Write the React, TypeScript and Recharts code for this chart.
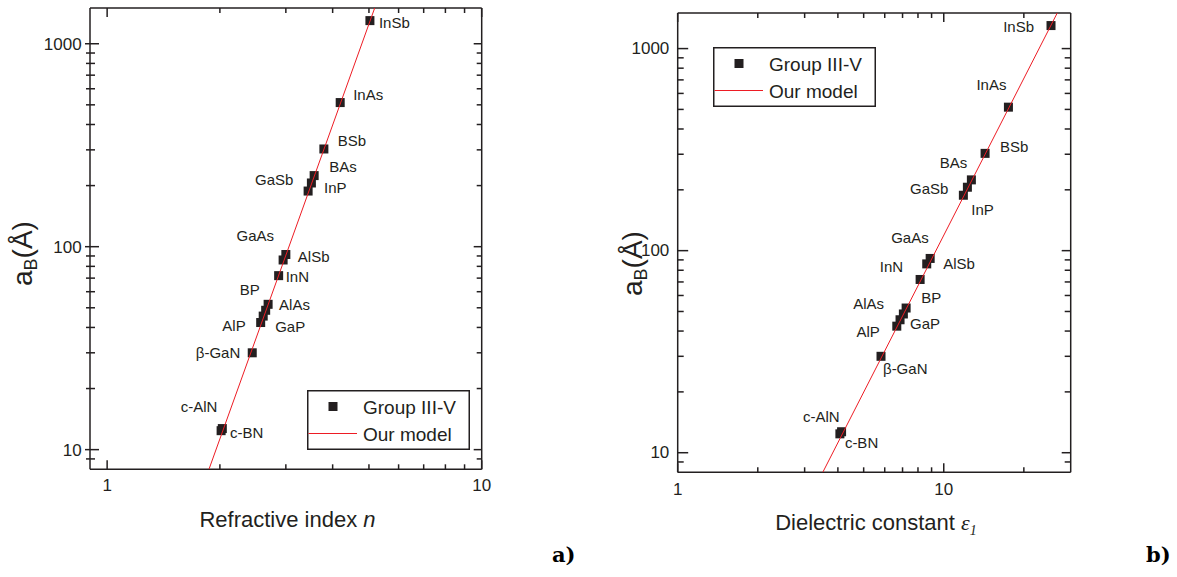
import { ScatterChart, Scatter, XAxis, YAxis, Legend } from 'recharts'

// materials and their values
const materials = ['InSb', 'InAs', 'BSb', 'BAs', 'GaSb', 'InP', 'GaAs', 'AlSb', 'InN', 'AlAs', 'BP', 'GaP', 'AlP', 'β-GaN', 'c-AlN', 'c-BN']
const bohrRadius = [1300, 513, 303, 224, 206, 188, 86, 91.5, 72, 52, 48.6, 45.5, 42.3, 30, 12.7, 12.4]
const refractiveIndex = [5.03, 4.19, 3.79, 3.57, 3.51, 3.44, 2.95, 3.0, 2.87, 2.69, 2.65, 2.61, 2.57, 2.44, 2.03, 2.015]
const dielectricConstant = [25.3, 17.5, 14.3, 12.7, 12.27, 11.85, 8.63, 8.89, 8.15, 7.22, 7.05, 6.85, 6.66, 5.81, 4.13, 4.07]

// model line end points
const modelN = [1.87, 5.18]
const modelEps = [3.51, 26.7]
const modelAB = [8, 1500]

const ticksN = [1, 2, 3, 4, 5, 6, 7, 8, 9, 10]
const ticksEps = [1, 2, 3, 4, 5, 6, 7, 8, 9, 10, 20]
const ticksAB = [9, 10, 20, 30, 40, 50, 60, 70, 80, 90, 100, 200, 300, 400, 500, 600, 700, 800, 900, 1000]
const labelledTicks = [1, 10, 100, 1000]

const INK = '#231f20'
const RED = '#ed1c24'
const FONT = '"Liberation Sans", Arial, sans-serif'

type Anchor = 'start' | 'end'
// label placement next to each square: dx, dy (baseline), anchor
const LABELS_A: Record<string, [number, number, Anchor]> = {
    InSb: [9, 7, 'start'], InAs: [13, -3, 'start'], BSb: [14, -3, 'start'], BAs: [15, -4, 'start'],
    GaSb: [-18, 2, 'end'], InP: [16, 2, 'start'], GaAs: [-9, -19, 'end'], AlSb: [12, 7, 'start'],
    InN: [7, 6, 'start'], AlAs: [11, 6, 'start'], BP: [-6, -15, 'end'], GaP: [12, 16, 'start'],
    AlP: [-15, 8, 'end'], 'β-GaN': [-12, 5, 'end'], 'c-AlN': [-5, -17, 'end'], 'c-BN': [9, 7, 'start'],
}
const LABELS_B: Record<string, [number, number, Anchor]> = {
    InSb: [-17, 6, 'end'], InAs: [-2, -17, 'end'], BSb: [15, -1, 'start'], BAs: [-4, -12, 'end'],
    GaSb: [-19, 7, 'end'], InP: [8, 20, 'start'], GaAs: [2, -21, 'end'], AlSb: [13, 11, 'start'],
    InN: [-17, -7, 'end'], AlAs: [-22, 1, 'end'], BP: [18, -11, 'start'], GaP: [10, 9, 'start'],
    AlP: [-17, 11, 'end'], 'β-GaN': [2, 18, 'start'], 'c-AlN': [-2, -10, 'end'], 'c-BN': [5, 14, 'start'],
}

interface PanelProps {
    left: number
    width: number
    margin: { top: number; right: number; bottom: number; left: number }
    xValues: number[]
    xDomain: [number, number]
    xTicks: number[]
    lineX: number[]
    labels: Record<string, [number, number, Anchor]>
    leftTick: { major: [number, number]; minor: [number, number] }
    rightTick: [number, number]
    yLabel: [number, number]
    xLabelDy: number
    legendPos: { left: number; top: number }
}

const major = (v: number) => labelledTicks.includes(v)

function LegendBox({ payload }: any) {
    return (
        <svg width={163} height={60} style={{ display: 'block' }}>
            <rect x={0.75} y={0.75} width={161.5} height={58.5} fill="#fff" stroke={INK} strokeWidth={1.5} />
            {(payload || []).map((e: any, i: number) => (
                <g key={e.value}>
                    {e.type === 'line'
                        ? <line x1={1.5} x2={50} y1={43.5} y2={43.5} stroke={RED} strokeWidth={1} />
                        : <rect x={21.5} y={12} width={9} height={9} fill={INK} />}
                    <text x={56} y={23.5 + i * 27} fontSize={19} fill={INK} fontFamily={FONT}>{e.value}</text>
                </g>
            ))}
        </svg>
    )
}

function Panel(p: PanelProps) {
    const points = materials.map((name, i) => ({ name, x: p.xValues[i], y: bohrRadius[i] }))
    const line = p.lineX.map((x, i) => ({ x, y: modelAB[i] }))
    const axis = { stroke: INK, strokeWidth: 1.5 }
    // every axis takes 1px, so the margins are one less than the plot box
    const m = { top: p.margin.top - 1, right: p.margin.right - 1, bottom: p.margin.bottom - 1, left: p.margin.left - 1 }

    const bottomTick = (t: any) => (
        <g>
            <line x1={t.x} x2={t.x} y1={t.y} y2={t.y - (major(t.payload.value) ? 9 : 5)} stroke={INK} strokeWidth={1.5} />
            {major(t.payload.value) && (
                <text x={t.x} y={t.y + p.xLabelDy} textAnchor="middle" fontSize={17} fill={INK} fontFamily={FONT}>
                    {t.payload.value}
                </text>
            )}
        </g>
    )
    const topTick = (t: any) => (
        <line x1={t.x} x2={t.x} y1={t.y} y2={t.y + (major(t.payload.value) ? 9 : 5)} stroke={INK} strokeWidth={1.5} />
    )
    const leftTick = (t: any) => {
        const [o, n] = major(t.payload.value) ? p.leftTick.major : p.leftTick.minor
        return (
            <g>
                <line x1={t.x + o} x2={t.x + n} y1={t.y} y2={t.y} stroke={INK} strokeWidth={1.5} />
                {major(t.payload.value) && (
                    <text x={t.x + p.yLabel[0]} y={t.y + p.yLabel[1]} textAnchor="end" fontSize={17} fill={INK} fontFamily={FONT}>
                        {t.payload.value}
                    </text>
                )}
            </g>
        )
    }
    const rightTick = (t: any) => (
        <line x1={t.x} x2={t.x - (major(t.payload.value) ? p.rightTick[0] : p.rightTick[1])} y1={t.y} y2={t.y} stroke={INK} strokeWidth={1.5} />
    )

    const square = (s: any) => {
        const [dx, dy, anchor] = p.labels[s.payload.name] || [8, 5, 'start']
        return (
            <g>
                <rect x={s.cx - 4.5} y={s.cy - 4.5} width={9} height={9} fill={INK} />
                <text x={s.cx + dx} y={s.cy + dy} textAnchor={anchor} fontSize={15} fill={INK} fontFamily={FONT}>
                    {s.payload.name}
                </text>
            </g>
        )
    }

    return (
        <div style={{ position: 'absolute', left: p.left, top: 0 }}>
            <ScatterChart width={p.width} height={577} margin={m}>
                <XAxis dataKey="x" type="number" scale="log" domain={p.xDomain} allowDataOverflow
                    ticks={p.xTicks} interval={0} height={1} tickSize={0} tickMargin={0}
                    tickLine={false} axisLine={axis} tick={bottomTick} />
                <XAxis xAxisId="top" orientation="top" dataKey="x" type="number" scale="log" domain={p.xDomain} allowDataOverflow
                    ticks={p.xTicks} interval={0} height={1} tickSize={0} tickMargin={0}
                    tickLine={false} axisLine={axis} tick={topTick} />
                <YAxis dataKey="y" type="number" scale="log" domain={[8, 1500]} allowDataOverflow
                    ticks={ticksAB} interval={0} width={1} tickSize={0} tickMargin={0}
                    tickLine={false} axisLine={axis} tick={leftTick} />
                <YAxis yAxisId="right" orientation="right" dataKey="y" type="number" scale="log" domain={[8, 1500]} allowDataOverflow
                    ticks={ticksAB} interval={0} width={1} tickSize={0} tickMargin={0}
                    tickLine={false} axisLine={axis} tick={rightTick} />
                <Legend layout="vertical" align="center" verticalAlign="middle" content={LegendBox}
                    wrapperStyle={{ left: p.legendPos.left, top: p.legendPos.top, width: 163, height: 60 }} />
                <Scatter name="Group III-V" data={points} fill={INK} legendType="square"
                    shape={square} isAnimationActive={false} />
                <Scatter name="Our model" data={line} fill={RED} legendType="line"
                    line={{ stroke: RED, strokeWidth: 1 }} shape={() => <g />} isAnimationActive={false} />
            </ScatterChart>
        </div>
    )
}

export default function App() {
    return (
        <div style={{ position: 'absolute', left: 0, top: 0, width: 1177, height: 577, background: '#fff', fontFamily: FONT }}>
            <Panel
                left={0} width={560}
                margin={{ top: 8, right: 78.3, bottom: 107.7, left: 90 }}
                xValues={refractiveIndex} xDomain={[0.9, 10]} xTicks={ticksN} lineX={modelN}
                labels={LABELS_A}
                leftTick={{ major: [-5, 9], minor: [-4, 5] }} rightTick={[8, 5]}
                yLabel={[-8.3, 6.5]} xLabelDy={22}
                legendPos={{ left: 306.7, top: 390 }}
            />
            <Panel
                left={580} width={597}
                margin={{ top: 13, right: 106.3, bottom: 104.7, left: 97.7 }}
                xValues={dielectricConstant} xDomain={[1, 30]} xTicks={ticksEps} lineX={modelEps}
                labels={LABELS_B}
                leftTick={{ major: [0, 10.5], minor: [0, 6] }} rightTick={[9, 6]}
                yLabel={[-8.4, 5.7]} xLabelDy={22.7}
                legendPos={{ left: 132.7, top: 46.7 }}
            />
            <svg width={1177} height={577} style={{ position: 'absolute', left: 0, top: 0, pointerEvents: 'none' }}>
                <g fill={INK} fontFamily={FONT}>
                    <text x={287.5} y={526.7} fontSize={22} textAnchor="middle">
                        Refractive index <tspan fontStyle="italic">n</tspan>
                    </text>
                    <text x={876} y={530} fontSize={22} textAnchor="middle">
                        Dielectric constant{' '}
                        <tspan fontFamily='"Liberation Serif", serif' fontStyle="italic">ε</tspan>
                        <tspan fontFamily='"Liberation Serif", serif' fontStyle="italic" fontSize={14} dy={5}>1</tspan>
                    </text>
                    <text transform="translate(31.7,286) rotate(-90)" fontSize={28}>
                        a<tspan fontSize={18} dy={5}>B</tspan><tspan dy={-5}>(Å)</tspan>
                    </text>
                    <text transform="translate(641.7,296) rotate(-90)" fontSize={28}>
                        a<tspan fontSize={18} dy={5}>B</tspan><tspan dy={-5}>(Å)</tspan>
                    </text>
                </g>
                <g fill="#000" fontFamily='"DejaVu Serif", serif' fontWeight="bold" fontSize={21}>
                    <text x={552} y={562}>a)</text>
                    <text x={1146} y={562}>b)</text>
                </g>
            </svg>
        </div>
    )
}
